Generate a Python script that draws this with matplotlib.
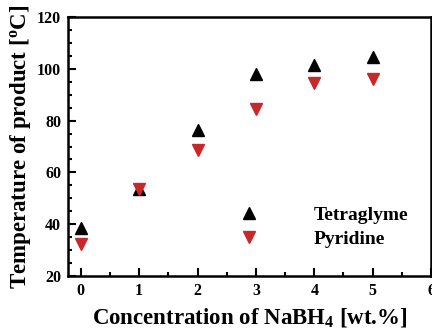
import matplotlib
matplotlib.use("Agg")
import matplotlib.pyplot as plt
from matplotlib.ticker import MultipleLocator

conc = [0, 1, 2, 3, 4, 5]
tetraglyme = [38.5, 53.5, 76.5, 98, 101.5, 104.5]
pyridine = [32.5, 53.5, 68.5, 84.5, 94.5, 96]

plt.rcParams['font.family'] = ['Liberation Serif', 'DejaVu Serif']
plt.rcParams['font.weight'] = 'bold'
plt.rcParams['mathtext.fontset'] = 'custom'
plt.rcParams['mathtext.rm'] = 'Liberation Serif:bold'
plt.rcParams['mathtext.bf'] = 'Liberation Serif:bold'
plt.rcParams['mathtext.it'] = 'Liberation Serif:bold'

fig = plt.figure(figsize=(4.32, 3.28), dpi=100)
ax = fig.add_axes([68/432, 1 - 276/328, (431-68)/432, (276-17)/328])

ax.plot(conc, tetraglyme, linestyle='none', marker='^', ms=9, color='black', label='Tetraglyme')
ax.plot(conc, pyridine, linestyle='none', marker='v', ms=9, color='#c8282a', label='Pyridine')

ax.set_xlim(-0.22, 6)
ax.set_ylim(20, 120)
ax.xaxis.set_major_locator(MultipleLocator(1))
ax.xaxis.set_minor_locator(MultipleLocator(0.5))
ax.yaxis.set_major_locator(MultipleLocator(20))
ax.yaxis.set_minor_locator(MultipleLocator(5))
ax.tick_params(which='both', direction='in', top=False, right=False, width=1.5)
ax.tick_params(which='major', length=6, labelsize=11.5, pad=5)
ax.tick_params(which='minor', length=3)
for lab in ax.get_xticklabels() + ax.get_yticklabels():
    lab.set_fontweight('bold')
for s in ax.spines.values():
    s.set_linewidth(1.8)

ax.set_xlabel('Concentration of NaBH$_\\mathrm{4}$ [wt.%]', fontsize=16.5, fontweight='bold', labelpad=5)
ax.set_ylabel('Temperature of product [$^\\mathrm{o}$C]', fontsize=16.5, fontweight='bold', labelpad=3)

leg = ax.legend(loc='lower right', bbox_to_anchor=(0.985, 0.04), frameon=False,
                prop={'size': 14, 'weight': 'bold'}, handletextpad=2.3, labelspacing=0.35)

fig.savefig('out.png', dpi=100)
